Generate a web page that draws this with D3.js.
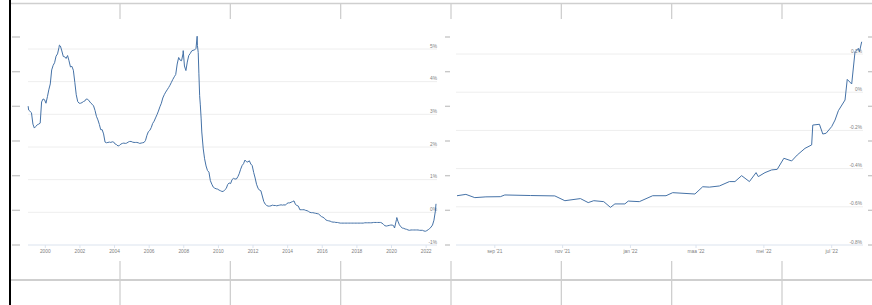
<!DOCTYPE html>
<html><head><meta charset="utf-8">
<script src="https://cdn.jsdelivr.net/npm/d3@7"></script>
<style>html,body{margin:0;padding:0;background:#fff;overflow:hidden}svg{display:block}</style>
</head><body><svg id="c" width="872" height="305"></svg>
<script>
// ---- DATA ----
// 3-month Euribor, monthly (mid-month), Jan 1999 .. Jul 2022
const histStartMonth = "1999-01";
const histMonthly = [
 3.13,3.09,3.05,2.70,2.58,2.63,2.68,2.70,2.73,3.38,3.47,3.45,
 3.34,3.54,3.75,3.93,4.36,4.50,4.58,4.78,4.85,5.04,5.09,4.94,
 4.77,4.76,4.71,4.80,4.64,4.45,4.47,4.35,3.98,3.60,3.39,3.34,
 3.34,3.36,3.39,3.41,3.47,3.46,3.41,3.35,3.31,3.26,3.12,2.94,
 2.83,2.69,2.53,2.53,2.40,2.15,2.13,2.14,2.15,2.14,2.16,2.15,
 2.09,2.07,2.03,2.05,2.09,2.11,2.12,2.11,2.12,2.15,2.17,2.17,
 2.15,2.14,2.14,2.14,2.13,2.11,2.12,2.13,2.14,2.20,2.36,2.47,
 2.51,2.60,2.72,2.79,2.89,2.99,3.10,3.23,3.34,3.50,3.60,3.68,
 3.75,3.82,3.89,3.98,4.07,4.15,4.22,4.54,4.74,4.66,4.64,4.85,
 4.48,4.34,4.60,4.80,4.86,4.94,4.96,4.97,5.02,5.11,4.24,3.29,
 2.46,1.94,1.64,1.42,1.28,1.23,0.97,0.86,0.77,0.74,0.72,0.71,
 0.68,0.66,0.64,0.64,0.69,0.73,0.85,0.90,0.88,1.00,1.04,1.02,
 1.02,1.09,1.18,1.32,1.43,1.49,1.60,1.55,1.54,1.58,1.48,1.43,
 1.22,1.05,0.86,0.74,0.68,0.66,0.50,0.33,0.25,0.21,0.19,0.19,
 0.20,0.22,0.21,0.21,0.20,0.21,0.22,0.23,0.22,0.23,0.22,0.27,
 0.29,0.29,0.31,0.33,0.35,0.24,0.21,0.19,0.08,0.08,0.08,0.08,
 0.06,0.05,0.03,0.00,-0.01,-0.01,-0.02,-0.03,-0.04,-0.05,-0.09,-0.13,
 -0.15,-0.18,-0.23,-0.25,-0.26,-0.27,-0.29,-0.30,-0.30,-0.31,-0.31,-0.32,
 -0.33,-0.33,-0.33,-0.33,-0.33,-0.33,-0.33,-0.33,-0.33,-0.33,-0.33,-0.33,
 -0.33,-0.33,-0.33,-0.33,-0.33,-0.32,-0.32,-0.32,-0.32,-0.32,-0.32,-0.31,
 -0.31,-0.31,-0.31,-0.31,-0.31,-0.33,-0.37,-0.41,-0.42,-0.41,-0.40,-0.39,
 -0.39,-0.41,-0.42,-0.22,-0.27,-0.38,-0.44,-0.48,-0.49,-0.51,-0.52,-0.54,
 -0.55,-0.54,-0.54,-0.54,-0.54,-0.54,-0.54,-0.55,-0.55,-0.55,-0.57,-0.58,
 -0.56,-0.53,-0.50,-0.45,-0.39,-0.24,0.04
];
// extra daily points (spikes / ends)
const histExtraDates  = ["1999-01-04","2000-10-25","2007-12-20","2008-10-09","2008-11-01","2008-12-01","2009-01-02","2020-03-05","2020-04-22","2022-07-28"];
const histExtraValues = [3.25, 5.12, 4.95, 5.39, 4.89, 3.57, 2.86, -0.48, -0.16, 0.26];

// last year
const yearDates = ["2021-07-29","2021-08-06","2021-08-14","2021-08-24","2021-09-06","2021-09-10","2021-10-03","2021-10-25","2021-11-03","2021-11-17","2021-11-24","2021-11-29","2021-12-08","2021-12-14","2021-12-18","2021-12-27","2021-12-30","2022-01-09","2022-01-21","2022-02-02","2022-02-08","2022-02-28","2022-03-07","2022-03-13","2022-03-22","2022-03-31","2022-04-05","2022-04-11","2022-04-18","2022-04-24","2022-04-26","2022-05-02","2022-05-08","2022-05-13","2022-05-19","2022-05-26","2022-05-31","2022-06-07","2022-06-13","2022-06-14","2022-06-20","2022-06-23","2022-06-26","2022-07-01","2022-07-04","2022-07-07","2022-07-13","2022-07-15","2022-07-19","2022-07-22","2022-07-25","2022-07-26","2022-07-28"];
const yearValues = [-0.542,-0.535,-0.552,-0.548,-0.547,-0.538,-0.541,-0.543,-0.568,-0.557,-0.578,-0.568,-0.573,-0.603,-0.585,-0.585,-0.570,-0.573,-0.542,-0.542,-0.526,-0.533,-0.495,-0.497,-0.491,-0.468,-0.468,-0.437,-0.468,-0.421,-0.442,-0.421,-0.407,-0.404,-0.346,-0.360,-0.329,-0.294,-0.276,-0.172,-0.168,-0.219,-0.215,-0.180,-0.146,-0.097,-0.041,0.067,0.043,0.212,0.230,0.212,0.264];

const histXTicks = ["2000","2002","2004","2006","2008","2010","2012","2014","2016","2018","2020","2022"];
const histYTicks = [-1,0,1,2,3,4,5];
const yearXTicks = ["2021-09-01","2021-11-01","2022-01-01","2022-03-01","2022-05-01","2022-07-01"];
const yearXLabels = ["sep '21","nov '21","jan '22","maa '22","mei '22","jul '22"];
const yearYTicks = [-0.8,-0.6,-0.4,-0.2,0,0.2];

// ---- DRAW ----
const svg = d3.select("#c");
const parse = d3.timeParse("%Y-%m-%d");
const W = 872, H = 305;
const grey = "#cfcfcf";

// page frame: left bar, top/bottom table lines
svg.append("rect").attr("x",9).attr("y",0).attr("width",2).attr("height",H).attr("fill","#000");
svg.append("line").attr("x1",11).attr("x2",W).attr("y1",3.5).attr("y2",3.5).attr("stroke",grey).attr("stroke-width",1.5);
svg.append("line").attr("x1",11).attr("x2",W).attr("y1",280).attr("y2",280).attr("stroke",grey).attr("stroke-width",2);
const colX = d3.range(7).map(i => d3.scaleLinear().domain([0,6]).range([120,782])(i));
colX.forEach(x => {
  svg.append("line").attr("x1",x).attr("x2",x).attr("y1",4).attr("y2",19).attr("stroke",grey).attr("stroke-width",1.3);
  svg.append("line").attr("x1",x).attr("x2",x).attr("y1",261).attr("y2",H).attr("stroke",grey).attr("stroke-width",1.3);
});
// side dashes
const dashY = d3.scaleLinear().domain([0,6]).range([37,245]);
[[12,20],[445,450],[868,872]].forEach(([a,b]) => {
  d3.range(7).forEach(i => svg.append("line").attr("x1",a).attr("x2",b)
    .attr("y1",dashY(i)).attr("y2",dashY(i)).attr("stroke","#c8c8c8").attr("stroke-width",1.4));
});

function chart(g, x, y, pts, xt, xl, yt, yfmt, x0, x1, labelX) {
  // gridlines
  yt.forEach(v => {
    if (v !== yt[0]) g.append("line").attr("x1",x0).attr("x2",x1).attr("y1",y(v)).attr("y2",y(v))
      .attr("stroke","#eeeeee").attr("stroke-width",1);
    g.append("text").attr("x",labelX).attr("y",y(v)-1.5).attr("text-anchor","end")
      .attr("font-family","Liberation Sans, Arial, sans-serif").attr("font-size",4.8).attr("fill","#808080")
      .text(yfmt(v));
  });
  // axis line
  g.append("line").attr("x1",x0).attr("x2",x1).attr("y1",y(yt[0])).attr("y2",y(yt[0]))
    .attr("stroke","#dbe3ee").attr("stroke-width",1);
  xt.forEach((d,i) => {
    const px = x(d);
    g.append("line").attr("x1",px).attr("x2",px).attr("y1",y(yt[0])).attr("y2",y(yt[0])+3)
      .attr("stroke","#dbe3ee").attr("stroke-width",1);
    g.append("text").attr("x",px).attr("y",253).attr("text-anchor","middle")
      .attr("font-family","Liberation Sans, Arial, sans-serif").attr("font-size",4.8).attr("fill","#808080")
      .text(xl[i]);
  });
  const line = d3.line().x(d => x(d[0])).y(d => y(d[1])).curve(d3.curveLinear);
  g.append("path").datum(pts).attr("d",line).attr("fill","none")
    .attr("stroke","#4572A7").attr("stroke-width",1).attr("stroke-linejoin","round");
}

// left chart
const monthStart = d3.timeParse("%Y-%m")(histStartMonth);
let histPts = histMonthly.map((v,i) => [d3.timeDay.offset(d3.timeMonth.offset(monthStart,i),14), v]);
histExtraDates.forEach((d,i) => histPts.push([parse(d), histExtraValues[i]]));
histPts.sort((a,b) => a[0]-b[0]);
const xL = d3.scaleTime().domain([parse("1999-01-01"), parse("2022-07-28")]).range([28,436]);
const yL = d3.scaleLinear().domain([-1,5]).range([245,49]);
chart(svg.append("g"), xL, yL, histPts,
  histXTicks.map(s => parse(s+"-01-01")), histXTicks, histYTicks, v => v + "%", 28, 437, 437);

// right chart
const yearPts = yearDates.map((d,i) => [parse(d), yearValues[i]]);
const xR = d3.scaleTime().domain([parse("2021-07-29"), parse("2022-07-28")]).range([457,861.7]);
const yR = d3.scaleLinear().domain([-0.8,0.2]).range([245,54]);
chart(svg.append("g"), xR, yR, yearPts,
  yearXTicks.map(parse), yearXLabels, yearYTicks, v => (Math.round(v*10)/10) + "%", 456, 863, 862);
</script></body></html>
